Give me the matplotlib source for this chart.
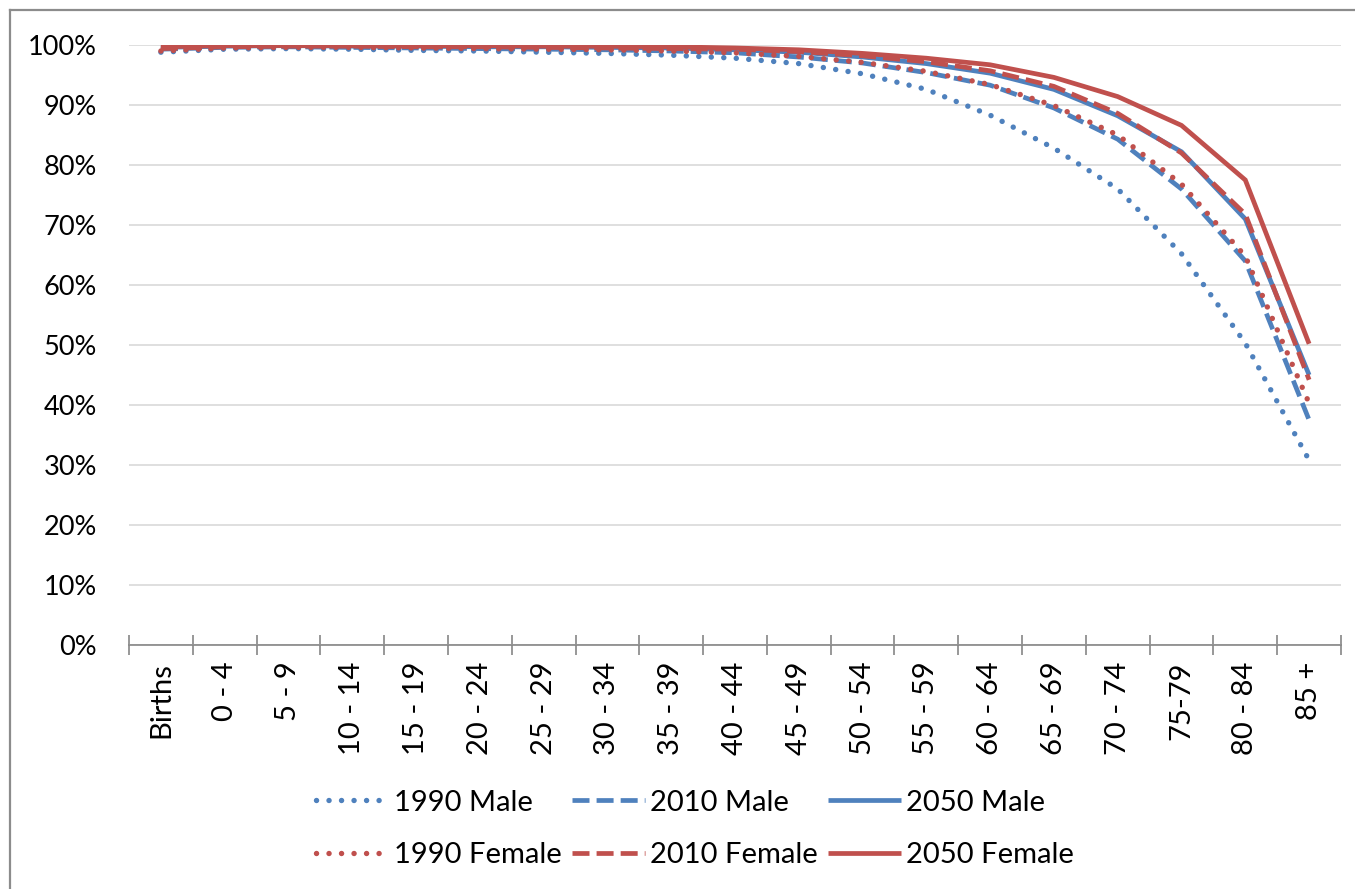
import numpy as np
import matplotlib
matplotlib.use("Agg")
import matplotlib.pyplot as plt
from matplotlib.lines import Line2D
from matplotlib.ticker import PercentFormatter, FixedLocator

plt.rcParams["font.family"] = ["Lato", "DejaVu Sans"]

# ── 数据 ──
age_groups = ["Births", "0 - 4", "5 - 9", "10 - 14", "15 - 19", "20 - 24", "25 - 29",
              "30 - 34", "35 - 39", "40 - 44", "45 - 49", "50 - 54", "55 - 59",
              "60 - 64", "65 - 69", "70 - 74", "75-79", "80 - 84", "85 +"]

male_1990 = [98.8, 99.3, 99.4, 99.3, 99.1, 99.0, 98.8, 98.6, 98.3, 97.8,
             96.9, 95.2, 92.6, 88.3, 82.8, 76.0, 65.2, 50.3, 30.8]
male_2010 = [99.3, 99.6, 99.7, 99.6, 99.5, 99.4, 99.3, 99.2, 99.0, 98.7,
             98.0, 97.0, 95.4, 93.3, 89.5, 84.3, 76.0, 64.0, 37.5]
male_2050 = [99.6, 99.8, 99.9, 99.8, 99.8, 99.7, 99.7, 99.6, 99.5, 99.2,
             98.8, 98.0, 96.9, 95.3, 92.6, 88.2, 82.2, 71.0, 45.0]
female_1990 = [99.0, 99.5, 99.6, 99.6, 99.5, 99.4, 99.3, 99.2, 99.0, 98.7,
               98.1, 97.1, 95.6, 93.4, 89.9, 85.0, 76.8, 64.8, 40.3]
female_2010 = [99.4, 99.7, 99.8, 99.8, 99.7, 99.7, 99.6, 99.5, 99.4, 99.3,
               98.9, 98.2, 97.2, 95.7, 93.1, 88.6, 82.0, 71.8, 44.2]
female_2050 = [99.7, 99.9, 99.9, 99.9, 99.9, 99.9, 99.8, 99.8, 99.7, 99.5,
               99.2, 98.6, 97.8, 96.7, 94.6, 91.4, 86.6, 77.5, 50.2]

BLUE = "#4F81BD"
RED = "#C0504D"
LW = 3.4
DOT_LW = 3.9
DOT = (0, (0.01, 2.3))
DASH = (0, (3.6, 1.5))

series = [
    ("1990 Male", male_1990, BLUE, DOT, "round"),
    ("2010 Male", male_2010, BLUE, DASH, "butt"),
    ("2050 Male", male_2050, BLUE, "-", "round"),
    ("1990 Female", female_1990, RED, DOT, "round"),
    ("2010 Female", female_2010, RED, DASH, "butt"),
    ("2050 Female", female_2050, RED, "-", "round"),
]

fig = plt.figure(figsize=(13.55, 8.89), dpi=100)
W, H = 1355, 889
ax = fig.add_axes([129 / W, (H - 645) / H, (1341 - 129) / W, 600 / H])

x = np.arange(len(age_groups))
handles = {}
for name, vals, col, ls, cap in series:
    lw = DOT_LW if ls == DOT else LW
    ln, = ax.plot(x, np.array(vals) / 100, color=col, lw=lw, linestyle=ls,
                  dash_capstyle=cap, solid_capstyle="butt", solid_joinstyle="miter")
    handles[name] = ln

ax.set_xlim(-0.5, len(age_groups) - 0.5)
ax.set_ylim(0, 1)
ax.yaxis.set_major_locator(FixedLocator(np.arange(0, 1.01, 0.1)))
ax.yaxis.set_major_formatter(PercentFormatter(1.0, decimals=0))
ax.grid(axis="y", color="#D9D9D9", lw=1.2)
ax.set_axisbelow(True)

for s in ["left", "right", "top"]:
    ax.spines[s].set_visible(False)
ax.spines["bottom"].set_color("#868686")
ax.spines["bottom"].set_linewidth(1.2)

ax.set_xticks(x)
ax.set_xticklabels(age_groups, rotation=90, fontsize=21, ha="center", va="top")
ax.set_xticks(np.arange(-0.5, len(age_groups)), minor=True)
ax.tick_params(axis="x", which="major", length=0, pad=12)
ax.tick_params(axis="x", which="minor", length=14, direction="inout",
               color="#868686", width=1.2)
ax.tick_params(axis="y", length=0, pad=23, labelsize=19.5)

order = ["1990 Male", "1990 Female", "2010 Male", "2010 Female", "2050 Male", "2050 Female"]
fig.legend([handles[k] for k in order], order, ncol=3, frameon=False,
           loc="center", bbox_to_anchor=(695 / W, (H - 829) / H),
           fontsize=21, handlelength=2.5, handletextpad=0.17,
           columnspacing=0.35, labelspacing=0.92)

# 外框（左、上）
fig.add_artist(Line2D([10 / W, 10 / W], [0, (H - 10) / H], color="#8C8C8C", lw=1.6))
fig.add_artist(Line2D([10 / W, 1], [(H - 10) / H, (H - 10) / H], color="#8C8C8C", lw=1.6))

fig.savefig("out.png", dpi=100)
